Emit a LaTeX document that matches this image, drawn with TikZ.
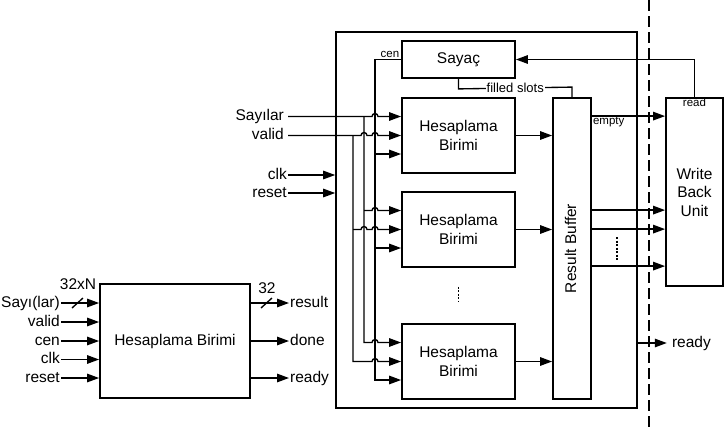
\documentclass[tikz,border=0pt]{standalone}
\usepackage{fontspec}
\setmainfont{Liberation Sans}
\usetikzlibrary{arrows.meta,calc}
\begin{document}
\begin{tikzpicture}[x=1pt,y=-1pt,
  box/.style={draw,line width=1.8pt,inner sep=0pt,font=\fontsize{15.5}{18.5}\selectfont,align=center},
  wire/.style={line width=1.35pt},
  arr/.style={wire,-{Triangle[length=12pt,width=8.5pt]}},
  lab/.style={inner sep=1pt,text height=11pt,text depth=3pt,font=\fontsize{15.5}{18.5}\selectfont},
  lab2/.style={lab,inner xsep=4pt},
  small/.style={inner sep=1pt,font=\fontsize{11.5}{13}\selectfont},
  mid/.style={inner sep=1pt,fill=white,font=\fontsize{13}{15}\selectfont}]
\useasboundingbox (0,0) rectangle (724,429);

% ---------- left block ----------
\node[box,minimum width=150pt,minimum height=114pt] (L) at (175,341) {Hesaplama Birimi};
\node[lab,anchor=east] (i1) at (61,303) {Sayı(lar)};
\node[lab,anchor=east] (i2) at (61,322) {valid};
\node[lab,anchor=east] (i3) at (61,341) {cen};
\node[lab,anchor=east] (i4) at (61,359.5) {clk};
\node[lab,anchor=east] (i5) at (61,378) {reset};
\foreach \n in {i1,i2,i3,i4,i5} \draw[arr] (\n.east) -- (L.west |- \n.east);
\draw[wire] (72,308) -- (83,298);
\node[lab] (w32N) at (78,285) {32xN};
\node[lab,anchor=west] (o1) at (289,303) {result};
\node[lab,anchor=west] (o2) at (289,341) {done};
\node[lab,anchor=west] (o3) at (289,378) {ready};
\foreach \n in {o1,o2,o3} \draw[arr] (L.east |- \n.west) -- (\n.west);
\draw[wire] (261,308) -- (272,298);
\node[lab] (w32) at (267,289) {32};

% ---------- main block ----------
\node[draw,line width=1.6pt,minimum width=301pt,minimum height=376pt,inner sep=0pt] (O) at (486.5,220) {};
\node[box,minimum width=113pt,minimum height=37pt] (S) at (458.5,59.5) {Sayaç};
\node[box,minimum width=113pt,minimum height=75pt] (H1) at (458.5,135.5) {Hesaplama\\Birimi};
\node[box,minimum width=113pt,minimum height=75pt] (H2) at (458.5,229.5) {Hesaplama\\Birimi};
\node[box,minimum width=113pt,minimum height=75pt] (H3) at (458.5,361.5) {Hesaplama\\Birimi};
\node[box,minimum width=38pt,minimum height=301pt] (RB) at (572,248.5) {};
\node[lab,rotate=90] (RBt) at (RB.center) {Result Buffer};
\node[box,minimum width=57pt,minimum height=188pt] (W) at (694.5,192) {Write\\Back\\Unit};

% input points
\foreach \h in {H1,H2,H3}{
  \coordinate (\h a) at ($(\h.west)+(0,-19)$);
  \coordinate (\h b) at (\h.west);
  \coordinate (\h c) at ($(\h.west)+(0,18.5)$);
}
\coordinate (va) at (353,0);
\coordinate (vb) at (364,0);
\coordinate (vc) at (375,0);
\coordinate (xin) at (288,0);

% Sayilar
\node[lab2,anchor=east] (sy) at (xin |- H1a) {Sayılar};
\draw[arr] (sy.east) -- ($(vc |- H1a)+(-3,0)$) arc[start angle=180,end angle=0,radius=3pt] -- (H1a);
\draw[arr] (vb |- H1a) -- (vb |- H3a) -- ($(vc |- H3a)+(-3,0)$) arc[start angle=180,end angle=0,radius=3pt] -- (H3a);
\draw[arr] (vb |- H2a) -- ($(vc |- H2a)+(-3,0)$) arc[start angle=180,end angle=0,radius=3pt] -- (H2a);

% valid
\node[lab2,anchor=east] (vl) at (xin |- H1b) {valid};
\draw[arr] (vl.east) -- ($(vb |- H1b)+(-3,0)$) arc[start angle=180,end angle=0,radius=3pt]
  -- ($(vc |- H1b)+(-3,0)$) arc[start angle=180,end angle=0,radius=3pt] -- (H1b);
\draw[arr] (va |- H1b) -- (va |- H3b) -- ($(vc |- H3b)+(-3,0)$) arc[start angle=180,end angle=0,radius=3pt] -- (H3b);
\draw[arr] (va |- H2b) -- ($(vb |- H2b)+(-3,0)$) arc[start angle=180,end angle=0,radius=3pt]
  -- ($(vc |- H2b)+(-3,0)$) arc[start angle=180,end angle=0,radius=3pt] -- (H2b);

% cen
\draw[arr] (S.west) -- (vc |- S.west) -- (vc |- H3c) -- (H3c);
\draw[arr] (vc |- H1c) -- (H1c);
\draw[arr] (vc |- H2c) -- (H2c);
\node[small,anchor=south] (cenl) at ($(vc |- S.west)+(15,-1)$) {cen};

% clk, reset
\node[lab,anchor=east] (ck) at (288,175) {clk};
\node[lab,anchor=east] (rs) at (288,193) {reset};
\draw[arr] (ck.east) -- (O.west |- ck.east);
\draw[arr] (rs.east) -- (O.west |- rs.east);

% HB outputs
\foreach \h in {H1,H2,H3} \draw[arr] (\h.east) -- (RB.west |- \h.east);

% filled slots
\draw[wire] (S.south) -- ++(0,10) -- node[mid] (fs) {filled slots} ($(RB.north)+(0,-10)$) -- (RB.north);

% read
\draw[arr] (W.north) |- (S.east);
\node[small,anchor=north,inner sep=0.5pt] (rdl) at (W.north) {read};

% empty
\coordinate (e1) at ($(RB.north east)+(0,19)$);
\draw[arr] (e1) -- (W.west |- e1);
\node[small,anchor=north west] (eml) at (e1) {empty};

% buffer -> write back
\coordinate (r1) at ($(RB.north east)+(0,113)$);
\coordinate (r2) at ($(RB.north east)+(0,132)$);
\coordinate (r3) at ($(RB.north east)+(0,169)$);
\foreach \r in {r1,r2,r3} \draw[arr] (\r) -- (W.west |- \r);
\draw[line width=1.3pt,dash pattern=on 2pt off 1.5pt] (617,237) -- (617,260);

% ready
\coordinate (rd) at ($(O.east)+(0,123)$);
\node[lab,anchor=west,inner xsep=5pt] (rdy) at ($(rd)+(29,0)$) {ready};
\draw[arr] (rd) -- (rdy.west);

% dots between units
\draw[line width=1.3pt,dash pattern=on 2pt off 1.5pt] ($(H2.south)+(0,19)$) -- ($(H3.north)+(0,-21)$);

% dashed border
\draw[line width=1.3pt,dash pattern=on 11pt off 5pt] (649,0) -- (649,429);
\end{tikzpicture}
\end{document}
